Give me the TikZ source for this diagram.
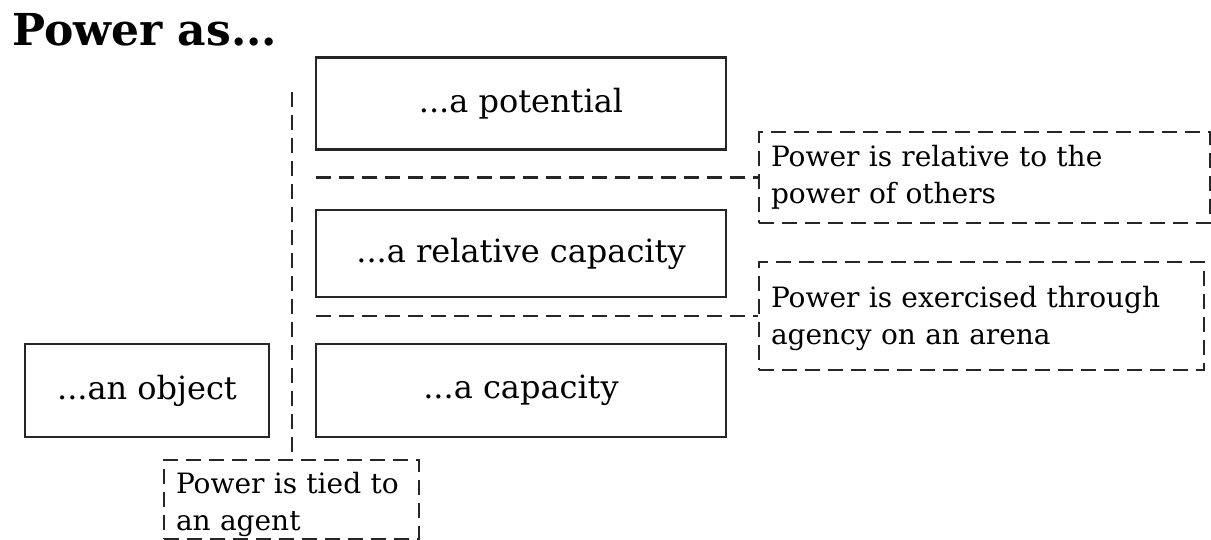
\documentclass[tikz,border=0pt]{standalone}
\usepackage{fontspec}
\setmainfont{DejaVu Serif}
\begin{document}
\begin{tikzpicture}[x=1pt,y=-1pt,
  solidbox/.style={draw=black!85, line width=2.6pt, minimum width=410pt, minimum height=92pt, inner sep=0pt, font=\fontsize{32}{38}\selectfont},
  notebox/.style={draw=black!85, line width=2.6pt, dash pattern=on 15pt off 8pt, inner ysep=0pt, inner xsep=12pt, align=left, font=\fontsize{28}{37}\selectfont},
  link/.style={draw=black!85, line width=2.6pt, dash pattern=on 15pt off 8pt}
]
\useasboundingbox (0,0) rectangle (1211,540);
\node[anchor=base west, inner sep=0pt, font=\fontsize{44}{50}\selectfont\bfseries] (title) at (12,46) {Power as...};
\node[solidbox] (pot) at (521,103.5) {...a potential};
\node[solidbox, minimum height=87pt] (rel) at (521,253.5) {...a relative capacity};
\node[solidbox, minimum height=93pt] (cap) at (521,390.5) {...a capacity};
\node[solidbox, minimum width=244pt, minimum height=93pt] (obj) at (147,390.5) {...an object};
\node[notebox, minimum width=451pt, minimum height=91pt, text width=427pt] (n1) at (984.5,177.5) {Power is relative to the\\power of others};
\node[notebox, minimum width=445pt, minimum height=108pt, text width=421pt] (n2) at (981.5,316) {\rule{0pt}{27pt}Power is exercised through\\agency on an arena};
\node[notebox, minimum width=255pt, minimum height=79pt, text width=231pt] (n3) at (291.5,499.5) {\rule{0pt}{31pt}Power is tied to\\an agent};
\coordinate (vtop) at (292,92);
\coordinate (h1) at (316,177.5);
\coordinate (h2) at (316,316);
\draw[link] (vtop) -- (vtop |- n3.north);
\draw[link] (h1) -- (n1.west);
\draw[link] (h2) -- (n2.west);
\end{tikzpicture}
\end{document}
